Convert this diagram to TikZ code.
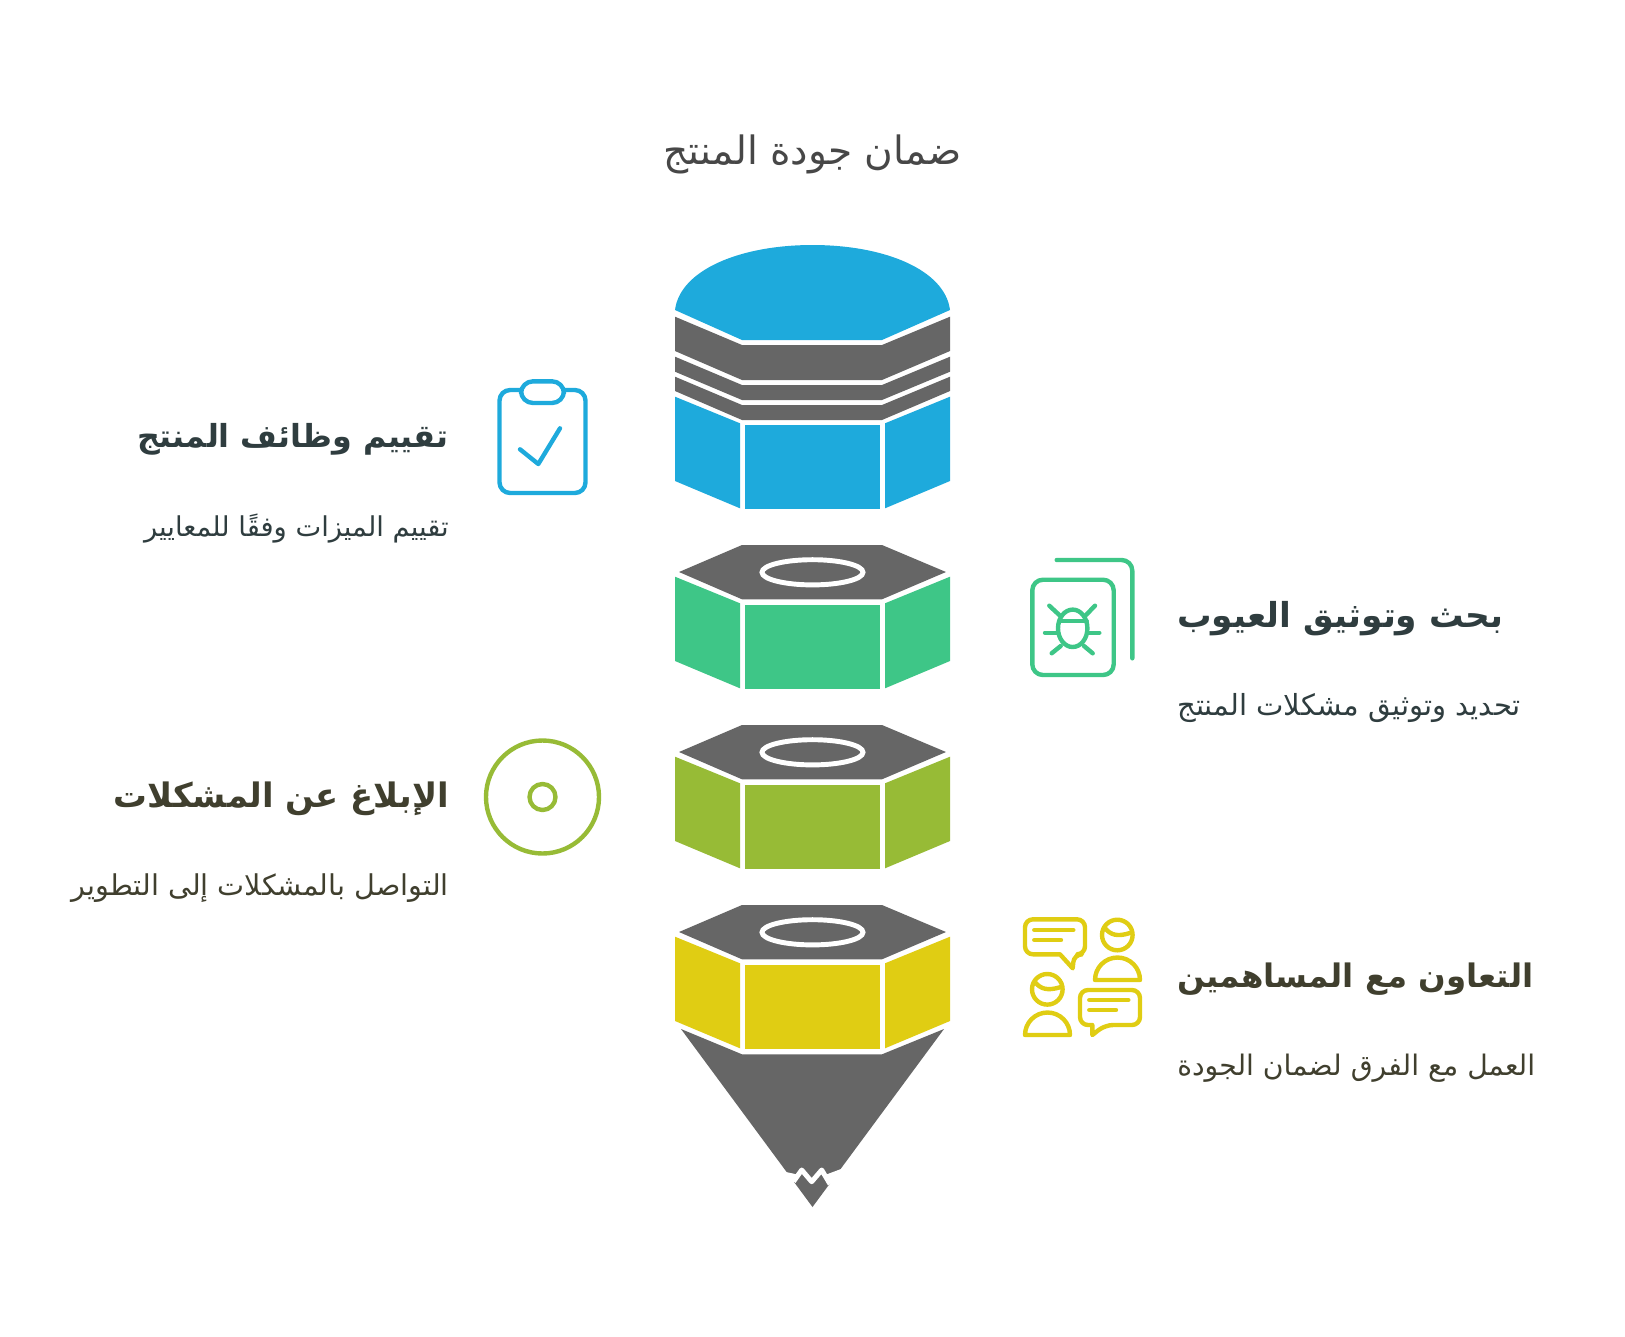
\documentclass[tikz,border=0pt]{standalone}
\usepackage{fontspec}
\usepackage{xcolor}
\TeXXeTstate=1
\newfontfamily\arabicfont[Script=Arabic]{DejaVu Sans}
\definecolor{barblue}{HTML}{1EAADC}
\definecolor{bargreen}{HTML}{3EC687}
\definecolor{barolive}{HTML}{97BB36}
\definecolor{baryellow}{HTML}{E0CD13}
\definecolor{bargrey}{HTML}{666666}
\definecolor{inkslate}{HTML}{2F3D3F}
\definecolor{inkolive}{HTML}{403F2E}
\newcommand{\lab}[1]{\arabicfont\fontsize{#1}{#1}\selectfont}
\newcommand{\hexfaces}[1]{%
  \fill[#1] (675,31.7)--(740,58.3)--(740,143.3)--(675,116)--cycle;
  \fill[#1] (745,60) rectangle (880,144.3);
  \fill[#1] (950,31.7)--(885,58.3)--(885,143.3)--(950,116)--cycle;}
\newcommand{\hexcap}{%
  \fill[bargrey] (679,27)--(742,0)--(882,0)--(946,27)--(882,54.3)--(742,54.3)--cycle;
  \draw[white,line width=3.7pt] (812.5,27.3) ellipse (50.5 and 12.6);}
\begin{document}
\begin{tikzpicture}[x=0.75pt,y=-0.75pt]
  \tikzstyle{headl}=[anchor=base east,inner sep=0]
  \tikzstyle{headr}=[anchor=base west,inner sep=0]
  \tikzstyle{icon}=[line width=3.3pt,line cap=round,line join=round]
  \useasboundingbox (0,0) rectangle (1625,1336);
  % title
  \node(title)[anchor=base,inner sep=0,text=black!72,font=\lab{29.3}] at (812.5,164) {\beginR ضمان جودة المنتج\endR};
  % top piece
  \fill[barblue] (675,310) .. controls (680,270) and (740,245) .. (812.5,245)
    .. controls (885,245) and (945,270) .. (950,310) -- (882,340) -- (742,340) -- cycle;
  \fill[bargrey] (675,316.7)--(742,345)--(882,345)--(950,316.7)--(950,351)--(882,380)--(742,380)--(675,351)--cycle;
  \fill[bargrey] (675,356.7)--(742,385)--(882,385)--(950,356.7)--(950,371.7)--(882,400)--(742,400)--(675,371.7)--cycle;
  \fill[bargrey] (675,376.7)--(742,405)--(882,405)--(950,376.7)--(950,391)--(882,420)--(742,420)--(675,391)--cycle;
  \begin{scope}[shift={(0,365)}]
    \hexfaces{barblue}
  \end{scope}
  % middle pieces
  \begin{scope}[shift={(0,545)}]
    \hexfaces{bargreen}\hexcap
  \end{scope}
  \begin{scope}[shift={(0,725)}]
    \hexfaces{barolive}\hexcap
  \end{scope}
  \begin{scope}[shift={(0,905)}]
    \hexfaces{baryellow}\hexcap
  \end{scope}
  % tip
  \fill[bargrey] (681,1029)--(742,1054.3)--(882,1054.3)--(944,1029)--(812.5,1207)--cycle;
  \fill[white] (786,1172)--(798.3,1174.7)--(793,1183)--cycle (841,1169)--(825,1175)--(831.5,1185)--cycle;
  \draw[white,line width=3.7pt,line join=round] (793.5,1181.5)--(801.7,1170)--(811.7,1181.7)--(821.7,1170)--(830,1184);
  % clipboard
  \draw[icon,draw=barblue,rounded corners=8] (499.5,390) rectangle (585.5,493);
  \draw[icon,draw=barblue,fill=white,rounded corners=9] (521,381.3) rectangle (564,403);
  \draw[icon,draw=barblue] (520,449.3)--(538.3,464)--(560,428.3);
  % bug sheet
  \draw[icon,draw=bargreen,rounded corners=8] (1056.7,560)--(1132.3,560)--(1132.3,658.3);
  \draw[icon,draw=bargreen,rounded corners=8] (1032.3,579.7) rectangle (1113.7,675);
  \draw[icon,draw=bargreen] (1072.7,628.3) ellipse (14.7 and 18.7);
  \draw[icon,draw=bargreen] (1059.3,621)--(1086.7,621);
  \draw[icon,draw=bargreen] (1049.3,605.7)--(1059.3,615) (1095,605.7)--(1086,615);
  \draw[icon,draw=bargreen] (1045,632.7)--(1058.3,632.7) (1099.3,632.7)--(1087.3,632.7);
  \draw[icon,draw=bargreen] (1051.7,653.3)--(1060.7,646) (1092.7,653.3)--(1084,646);
  % target
  \draw[icon,draw=barolive] (542.5,797) circle (56.5);
  \draw[icon,draw=barolive] (542.5,797) circle (13);
  % chat
  \draw[icon,draw=baryellow,rounded corners=6] (1055,919.3)--(1085,919.3)--(1085,954.3)--(1074,954.3)[sharp corners]--(1072.7,968.3)--(1060,954.3)[rounded corners=6]--(1025,954.3)--(1025,919.3)--cycle;
  \draw[icon,draw=baryellow] (1034.3,930)--(1073.3,930) (1034.3,940)--(1061,940);
  \draw[icon,draw=baryellow] (1117.3,935) circle (15.3);
  \draw[icon,draw=baryellow] (1105,928.3) .. controls (1111,935) and (1117,937) .. (1130,933);
  \draw[icon,draw=baryellow] (1095,980) arc (180:360:22.5) -- cycle;
  \draw[icon,draw=baryellow] (1047.3,989.3) circle (15.3);
  \draw[icon,draw=baryellow] (1035,982.3) .. controls (1041,989) and (1047,991) .. (1060,987.3);
  \draw[icon,draw=baryellow] (1025,1035) arc (180:360:22.5) -- cycle;
  \draw[icon,draw=baryellow,rounded corners=6] (1110,990)--(1140,990)--(1140,1025)--(1105,1025)[sharp corners]--(1092.3,1035)--(1092.3,1025)[rounded corners=6]--(1080,1025)--(1080,990)--cycle;
  \draw[icon,draw=baryellow] (1089.3,1000)--(1128.3,1000) (1089.3,1010)--(1116,1010);
  % labels
  \node(headfunc)[headl,text=inkslate,font=\lab{23.8}\bfseries] at (449,447) {\beginR تقييم وظائف المنتج\endR};
  \node(subfunc)[headl,text=inkslate,font=\lab{20.5}] at (449,536) {\beginR تقييم الميزات وفقًا للمعايير\endR};
  \node(headbug)[headr,text=inkslate,font=\lab{25.8}\bfseries] at (1177,627) {\beginR بحث وتوثيق العيوب\endR};
  \node(subbug)[headr,text=inkslate,font=\lab{21.8}] at (1177,715) {\beginR تحديد وتوثيق مشكلات المنتج\endR};
  \node(headrep)[headl,text=inkolive,font=\lab{25.3}\bfseries] at (449,807) {\beginR الإبلاغ عن المشكلات\endR};
  \node(subrep)[headl,text=inkolive,font=\lab{21.5}] at (449,895) {\beginR التواصل بالمشكلات إلى التطوير\endR};
  \node(headteam)[headr,text=inkolive,font=\lab{24.3}\bfseries] at (1177,987) {\beginR التعاون مع المساهمين\endR};
  \node(subteam)[headr,text=inkolive,font=\lab{21.2}] at (1177,1075) {\beginR العمل مع الفرق لضمان الجودة\endR};
\end{tikzpicture}
\end{document}
